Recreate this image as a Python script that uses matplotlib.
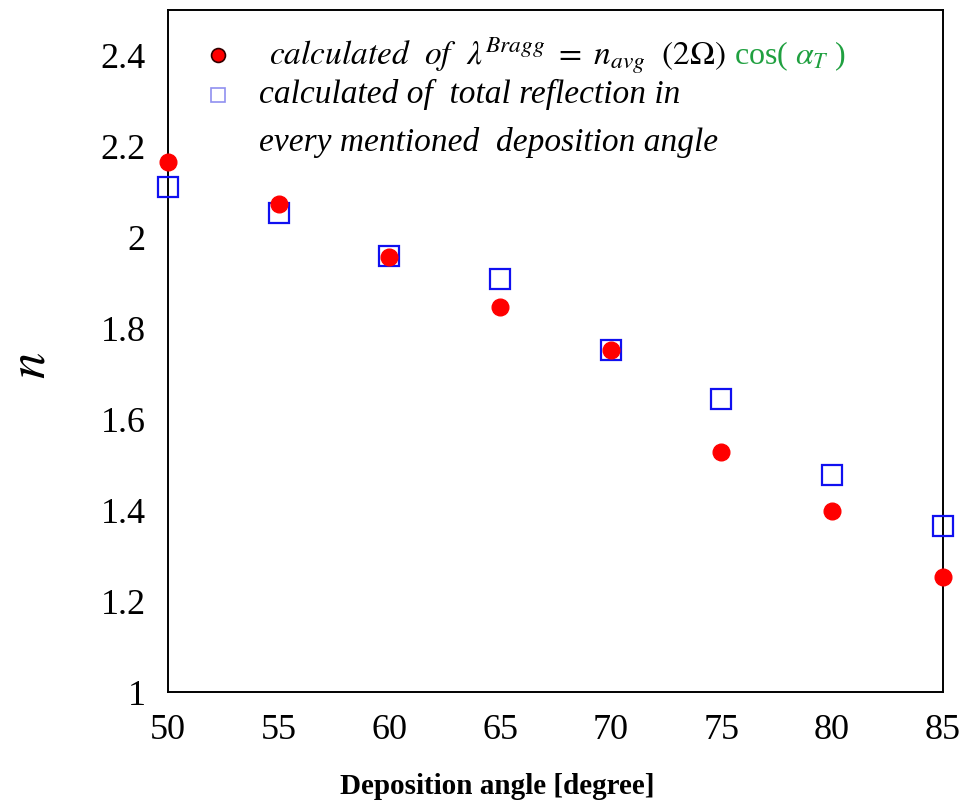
import matplotlib
matplotlib.use("Agg")
import matplotlib.pyplot as plt

plt.rcParams["font.family"] = ["Liberation Serif", "DejaVu Serif"]
plt.rcParams["mathtext.fontset"] = "stix"

# data
angles = [50, 55, 60, 65, 70, 75, 80, 85]
n_bragg = [2.166, 2.074, 1.957, 1.847, 1.752, 1.527, 1.399, 1.254]
n_total = [2.111, 2.054, 1.959, 1.908, 1.752, 1.644, 1.478, 1.366]
xticks = [50, 55, 60, 65, 70, 75, 80, 85]
yticks = [1, 1.2, 1.4, 1.6, 1.8, 2, 2.2, 2.4]
ytick_labels = ["1", "1.2", "1.4", "1.6", "1.8", "2", "2.2", "2.4"]

fig = plt.figure(figsize=(9.62, 8.06), dpi=100)
ax = fig.add_axes([0.1746, 0.1414, 0.8054, 0.8462])

ax.plot(angles, n_total, ls="none", marker="s", ms=14, mfc="none",
        mec="#1010f0", mew=1.6, clip_on=False, zorder=3)
ax.plot(angles, n_bragg, ls="none", marker="o", ms=12, mfc="#ff0000",
        mec="#ff0000", clip_on=False, zorder=4)

ax.set_xlim(50, 85)
ax.set_ylim(1, 2.5)
ax.set_xticks(xticks)
ax.set_yticks(yticks)
ax.set_yticklabels(ytick_labels)
ax.tick_params(length=0, labelsize=26, pad=16)
ax.tick_params(axis="y", pad=16)
for s in ax.spines.values():
    s.set_linewidth(1.4)

fig.text(0.517, 0.024, "Deposition angle [degree]", fontsize=21,
         fontweight="bold", ha="center", va="center")
fig.text(0.033, 0.547, "$n$", fontsize=38, rotation=90, ha="center",
         va="center")

# hand-made legend
ax.plot([0.065], [0.934], transform=ax.transAxes, marker="o", ms=10,
        mfc="#ff0000", mec="#300000", mew=1.2, ls="none", clip_on=False)
ax.plot([0.065], [0.876], transform=ax.transAxes, marker="s", ms=10,
        mfc="none", mec="#9090f0", mew=1.2, ls="none", clip_on=False)
t1 = ax.text(0.13, 0.934,
             r"$\mathit{calculated\ \ of}\ \ \lambda^{Bragg}\ =\ n_{avg}\ \ (2\Omega)$",
             transform=ax.transAxes, fontsize=24, va="center", ha="left")
ax.annotate(r" cos( $\alpha_T$ )", xy=(1, 0.05), xycoords=t1, va="bottom",
            ha="left", fontsize=23, color="#20a040")
ax.text(0.117, 0.876, "calculated of  total reflection in",
        transform=ax.transAxes, fontsize=24, style="italic", va="center")
ax.text(0.117, 0.805, "every mentioned  deposition angle",
        transform=ax.transAxes, fontsize=24, style="italic", va="center")

fig.savefig("out.png", dpi=100)
